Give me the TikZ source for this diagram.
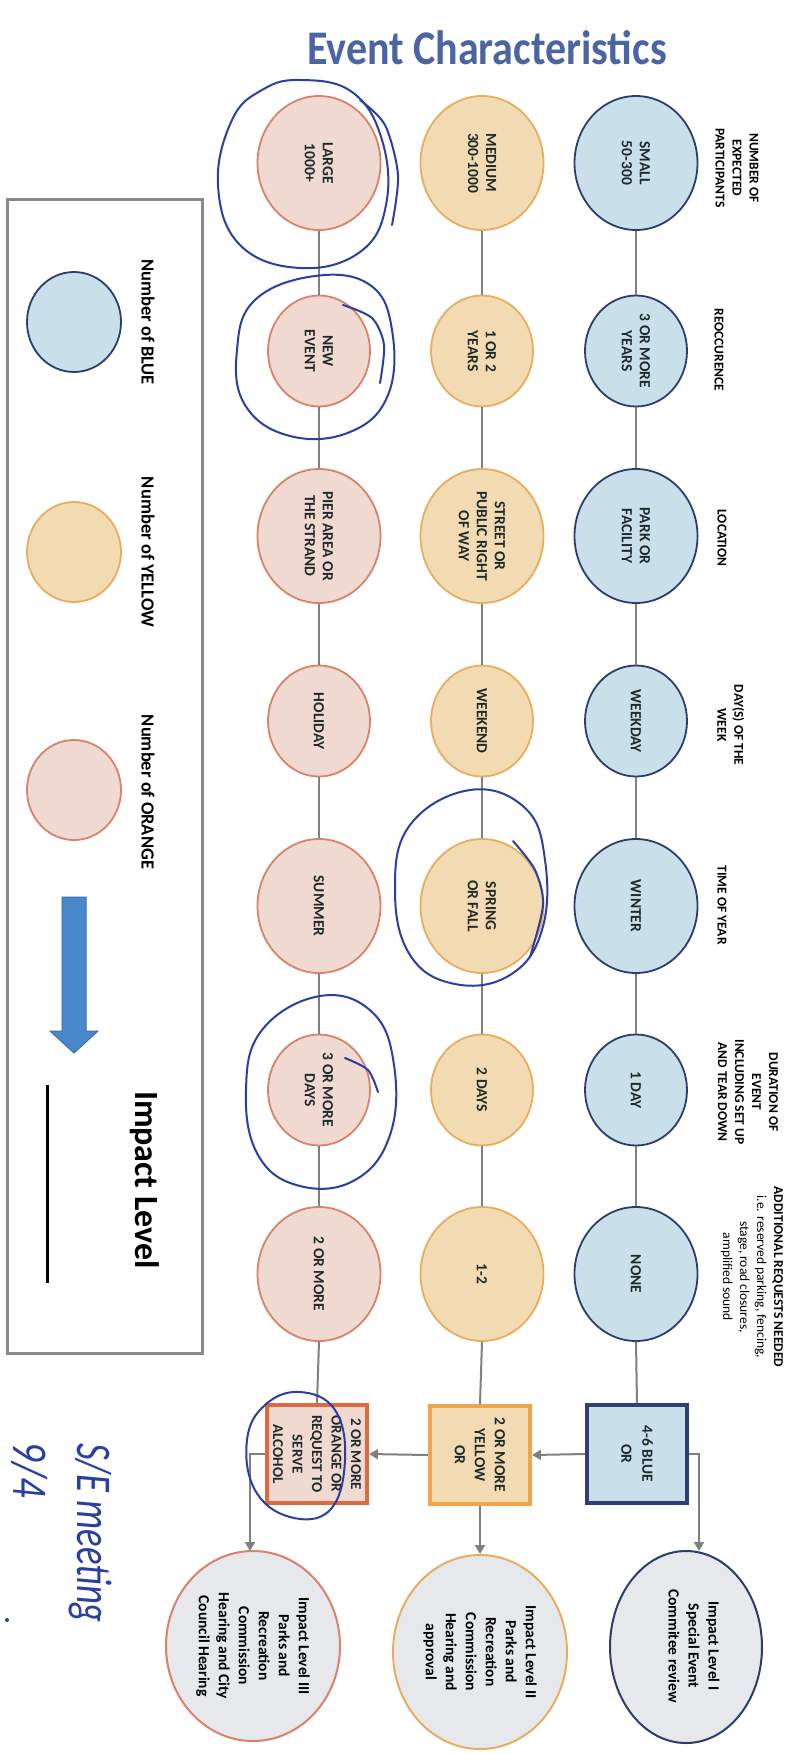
\documentclass[tikz,border=0pt]{standalone}
\usepackage{fontspec}
\usepackage{graphicx}
\setmainfont{Carlito}
\usetikzlibrary{shapes.geometric,arrows.meta}
\definecolor{bfill}{HTML}{C9DFEA}
\definecolor{bdraw}{HTML}{2D3D6B}
\definecolor{yfill}{HTML}{F2DAB2}
\definecolor{ydraw}{HTML}{E6AE5E}
\definecolor{ofill}{HTML}{F0D9D0}
\definecolor{odraw}{HTML}{D9826A}
\definecolor{ysqdraw}{HTML}{F0A54C}
\definecolor{osqdraw}{HTML}{E0683E}
\definecolor{bsqdraw}{HTML}{2E3F78}
\definecolor{impfill}{HTML}{E6E8EC}
\definecolor{txt}{HTML}{1E2B2B}
\definecolor{lgray}{HTML}{808080}
\definecolor{titleblue}{HTML}{4A64A4}
\definecolor{hblue}{HTML}{2A3FA0}
\definecolor{arrowblue}{HTML}{4A88CC}
\definecolor{arrowedge}{HTML}{3A70B0}
\definecolor{legedge}{HTML}{8A8A8A}
\begin{document}
\begin{tikzpicture}[x=1pt,y=-1pt,
  big/.style={ellipse,minimum width=123pt,minimum height=134pt,inner sep=0pt,line width=1.8pt},
  small/.style={ellipse,minimum width=102pt,minimum height=111pt,inner sep=0pt,line width=1.8pt},
  bc/.style={fill=bfill,draw=bdraw},
  yc/.style={fill=yfill,draw=ydraw},
  oc/.style={fill=ofill,draw=odraw},
  lbl/.style={rotate=-90,align=center,text=txt,font=\bfseries\fontsize{15.5}{18}\selectfont,inner sep=0pt},
  hdr/.style={rotate=-90,align=center,text=black,font=\bfseries\fontsize{13.5}{17}\selectfont,inner sep=0pt},
  sqbox/.style={rectangle,minimum width=100pt,minimum height=98pt,line width=4pt,inner sep=0pt},
  imp/.style={ellipse,fill=impfill,line width=2pt,inner sep=0pt},
  imptxt/.style={rotate=-90,align=center,text=black,font=\bfseries\fontsize{15.5}{20}\selectfont,inner sep=0pt},
  legtxt/.style={rotate=-90,align=center,text=black,font=\bfseries\fontsize{18.5}{22}\selectfont,inner sep=0pt},
  conn/.style={draw=lgray,line width=2pt},
  arr/.style={draw=lgray,line width=2pt,-{Triangle[width=10pt,length=9pt]}},
  hand/.style={draw=hblue,line width=2pt,line cap=round,line join=round},
  handtxt/.style={rotate=-90,text=hblue,font=\itshape\fontsize{40}{44}\selectfont,inner sep=0pt}
]
\useasboundingbox (0,0) rectangle (792,1754);
\fill[white] (0,0) rectangle (792,1754);

% title
\node[text=titleblue,font=\bfseries\fontsize{42}{46}\selectfont,inner sep=0pt] (title) at (487,48) {\scalebox{1}[1.15]{Event Characteristics}};

% headers
\node[hdr] (h1) at (737,168) {NUMBER OF\\EXPECTED\\PARTICIPANTS};
\node[hdr] (h2) at (719,350) {REOCCURENCE};
\node[hdr] (h3) at (722,538) {LOCATION};
\node[hdr] (h4) at (731,725) {DAY(S) OF THE\\WEEK};
\node[hdr] (h5) at (722,905) {TIME OF YEAR};
\node[hdr] (h6) at (748,1092) {DURATION OF\\EVENT\\INCLUDING SET UP\\AND TEAR DOWN};
\node[hdr] (h7) at (752,1277) {ADDITIONAL REQUESTS NEEDED\\\mdseries i.e. reserved parking, fencing,\\\mdseries stage, road closures,\\\mdseries amplified sound};

% blue column
\node[big,bc]   (b1) at (636,163) {};
\node[small,bc] (b2) at (636,351) {};
\node[big,bc]   (b3) at (636,536) {};
\node[small,bc] (b4) at (636,721) {};
\node[big,bc]   (b5) at (636,906) {};
\node[small,bc] (b6) at (636,1090) {};
\node[big,bc]   (b7) at (636,1274) {};
% yellow column
\node[big,yc]   (y1) at (482,163) {};
\node[small,yc] (y2) at (482,351) {};
\node[big,yc]   (y3) at (482,536) {};
\node[small,yc] (y4) at (482,721) {};
\node[big,yc]   (y5) at (482,906) {};
\node[small,yc] (y6) at (482,1090) {};
\node[big,yc]   (y7) at (482,1274) {};
% orange column
\node[big,oc]   (o1) at (319,163) {};
\node[small,oc] (o2) at (319,351) {};
\node[big,oc]   (o3) at (319,536) {};
\node[small,oc] (o4) at (319,721) {};
\node[big,oc]   (o5) at (319,906) {};
\node[small,oc] (o6) at (319,1090) {};
\node[big,oc]   (o7) at (319,1274) {};

% labels
\node[lbl] (b1t) at (b1) {SMALL\\50-300};
\node[lbl] (b2t) at (b2) {3 OR MORE\\YEARS};
\node[lbl] (b3t) at (b3) {PARK OR\\FACILITY};
\node[lbl] (b4t) at (b4) {WEEKDAY};
\node[lbl] (b5t) at (b5) {WINTER};
\node[lbl] (b6t) at (b6) {1 DAY};
\node[lbl] (b7t) at (b7) {NONE};
\node[lbl] (y1t) at (y1) {MEDIUM\\300-1000};
\node[lbl] (y2t) at (y2) {1 OR 2\\YEARS};
\node[lbl] (y3t) at (y3) {STREET OR\\PUBLIC RIGHT\\OF WAY};
\node[lbl] (y4t) at (y4) {WEEKEND};
\node[lbl] (y5t) at (y5) {SPRING\\OR FALL};
\node[lbl] (y6t) at (y6) {2 DAYS};
\node[lbl] (y7t) at (y7) {1-2};
\node[lbl] (o1t) at (o1) {LARGE\\1000+};
\node[lbl] (o2t) at (o2) {NEW\\EVENT};
\node[lbl] (o3t) at (o3) {PIER AREA OR\\THE STRAND};
\node[lbl] (o4t) at (o4) {HOLIDAY};
\node[lbl] (o5t) at (o5) {SUMMER};
\node[lbl] (o6t) at (o6) {3 OR MORE\\DAYS};
\node[lbl] (o7t) at (o7) {2 OR MORE};

% squares
\node[sqbox,fill=bfill,draw=bsqdraw] (bsq) at (637,1454) {};
\node[sqbox,fill=yfill,draw=ysqdraw] (ysq) at (480,1455) {};
\node[sqbox,fill=ofill,draw=osqdraw] (osq) at (317,1454) {};
\node[lbl,font=\bfseries\fontsize{15.5}{21}\selectfont] (bsqt) at (bsq) {4-6 BLUE\\OR};
\node[lbl,font=\bfseries\fontsize{15.5}{20}\selectfont] (ysqt) at (ysq) {2 OR MORE\\YELLOW\\OR};
\node[lbl,font=\bfseries\fontsize{15}{19.5}\selectfont] (osqt) at (osq) {2 OR MORE\\ORANGE OR\\REQUEST TO\\SERVE\\ALCOHOL};

% impact circles
\node[imp,draw=bdraw,minimum width=152pt,minimum height=192pt] (imp1) at (686,1647) {};
\node[imp,draw=ydraw,minimum width=174pt,minimum height=194pt] (imp2) at (480,1652) {};
\node[imp,draw=odraw,minimum width=174pt,minimum height=190pt] (imp3) at (253,1646) {};
\node[imptxt] (imp1t) at (694,1646) {Impact Level I\\Special Event\\Commitee review};
\node[imptxt] (imp2t) at (imp2) {Impact Level II\\Parks and\\Recreation\\Commission\\Hearing and\\approval};
\node[imptxt] (imp3t) at (imp3) {Impact Level III\\Parks and\\Recreation\\Commission\\Hearing and City\\Council Hearing};

% connectors
\foreach \c in {b,y,o}{
  \draw[conn] (\c1.south) -- (\c2.north);
  \draw[conn] (\c2.south) -- (\c3.north);
  \draw[conn] (\c3.south) -- (\c4.north);
  \draw[conn] (\c4.south) -- (\c5.north);
  \draw[conn] (\c5.south) -- (\c6.north);
  \draw[conn] (\c6.south) -- (\c7.north);
}
\draw[conn] (b7.south) -- (bsq.north);
\draw[conn] (y7.south) -- (ysq.north);
\draw[conn] (o7.south) -- (osq.north);
\draw[arr] (bsq.west) -- (ysq.east);
\draw[arr] (ysq.west) -- (osq.east);
\draw[arr] (bsq.east) -| ([xshift=13pt,yshift=-1pt]imp1.north);
\draw[arr] (ysq.south) -- (imp2.north);
\draw[arr] (osq.west) -| ([xshift=-3pt,yshift=-1pt]imp3.north);

% legend
\draw[draw=legedge,line width=3pt] (7,199) rectangle (202,1353);
\node[ellipse,fill=bfill,draw=bdraw,line width=1.8pt,minimum width=94pt,minimum height=100pt,inner sep=0pt] (lb) at (74,322) {};
\node[ellipse,fill=yfill,draw=ydraw,line width=1.8pt,minimum width=94pt,minimum height=100pt,inner sep=0pt] (ly) at (74,552) {};
\node[ellipse,fill=ofill,draw=odraw,line width=1.8pt,minimum width=94pt,minimum height=100pt,inner sep=0pt] (lo) at (74,790) {};
\node[legtxt] (lbt) at (148,322) {Number of BLUE};
\node[legtxt] (lyt) at (148,552) {Number of YELLOW};
\node[legtxt] (lot) at (148,792) {Number of ORANGE};
\fill[arrowblue,draw=arrowedge,line width=1pt] (62,897) -- (86,897) -- (86,1031) -- (98,1031) -- (74,1053) -- (50,1031) -- (62,1031) -- cycle;
\node[legtxt,font=\bfseries\fontsize{34}{40}\selectfont] (limp) at (145,1180) {Impact Level};
\draw[black,line width=3pt] (47,1085) -- (47,1283);

% handwritten marks
\draw[hand] plot[smooth cycle,tension=0.7] coordinates {(300,80) (352,92) (382,140) (386,205) (360,252) (300,268) (240,245) (218,185) (232,120) (262,90)};
\draw[hand] plot[smooth] coordinates {(360,100) (385,125) (398,175) (392,225)};
\draw[hand] plot[smooth cycle,tension=0.7] coordinates {(315,276) (370,285) (392,330) (388,395) (350,432) (290,436) (245,405) (237,350) (255,300)};
\draw[hand] plot[smooth] coordinates {(343,305) (372,318) (384,345) (380,383)};
\draw[hand] plot[smooth cycle,tension=0.7] coordinates {(470,790) (525,808) (545,860) (542,930) (510,975) (455,984) (410,955) (395,890) (410,825)};
\draw[hand] plot[smooth] coordinates {(513,841) (535,870) (543,905) (530,957)};
\draw[hand] plot[smooth cycle,tension=0.7] coordinates {(320,996) (372,1012) (394,1065) (390,1135) (355,1180) (300,1186) (258,1155) (246,1090) (262,1030)};
\draw[hand] plot[smooth] coordinates {(345,1058) (368,1070) (378,1092)};
\draw[hand] plot[smooth cycle,tension=0.7] coordinates {(300,1392) (335,1410) (345,1460) (330,1510) (290,1517) (255,1490) (247,1440) (265,1405)};
\node[handtxt] (hw1) at (90,1533) {\scalebox{0.92}[1.25]{S/E meeting}};
\node[handtxt] (hw2) at (30,1470) {\scalebox{1}[1.25]{9/4}};
\fill[hblue] (7,1620) circle (2pt);
\end{tikzpicture}
\end{document}
